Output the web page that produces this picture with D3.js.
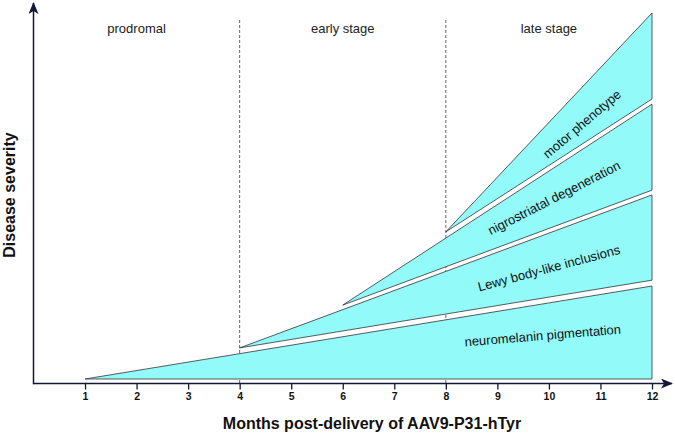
<!DOCTYPE html>
<html>
<head>
<meta charset="utf-8">
<script src="https://cdn.jsdelivr.net/npm/d3@7"></script>
<style>
  body { margin: 0; background: #fff; }
  svg { display: block; font-family: "Liberation Sans", Arial, sans-serif; }
</style>
</head>
<body>
<div class="chart"></div>
<script>
// data
var months = [1, 2, 3, 4, 5, 6, 7, 8, 9, 10, 11, 12];
var stageNames = ["prodromal", "early stage", "late stage"];
var stageBounds = [0, 4, 8, 12];

var bandNames = ["neuromelanin pigmentation", "Lewy body-like inclusions", "nigrostriatal degeneration", "motor phenotype"];
var bandStart = [1, 4, 6, 8];            // month where the band begins
var bandStartValue = [0, 8.5, 20.2, 40.2];
var bandEndLow = [0, 27.0, 51.6, 76.5];  // severity at month 12, lower edge
var bandEndHigh = [25.4, 50.3, 75.1, 100];
var labelMonth = [9.88, 10.0, 10.1, 10.64];
var labelValue = [11.9, 30.3, 49.5, 69.7];

var width = 675, height = 436;
var ink = "#15173a";

var svg = d3.select(".chart")
    .append("svg")
    .attr("width", width)
    .attr("height", height);

var x = d3.scaleLinear().domain([0, 12]).range([33.5, 652]);
var y = d3.scaleLinear().domain([0, 100]).range([379, 13]);
var axisY = 383.5;

// stage dividers
svg.selectAll(".divider")
    .data(stageBounds.slice(1, 3))
    .enter().append("line")
    .attr("class", "divider")
    .attr("x1", function (d) { return x(d); })
    .attr("x2", function (d) { return x(d); })
    .attr("y1", 20)
    .attr("y2", axisY)
    .attr("stroke", "#555")
    .attr("stroke-width", 0.9)
    .attr("stroke-dasharray", "3,2");

// stage labels
svg.selectAll(".stage")
    .data(stageNames)
    .enter().append("text")
    .attr("class", "stage")
    .attr("x", function (d, i) { return x((stageBounds[i] + stageBounds[i + 1]) / 2); })
    .attr("y", 28)
    .attr("dy", "0.35em")
    .attr("text-anchor", "middle")
    .attr("font-size", 13)
    .attr("fill", "#222")
    .text(function (d) { return d; });

// bands
var bands = bandNames.map(function (name, i) {
    return {
        name: name,
        pts: [
            [x(bandStart[i]), y(bandStartValue[i])],
            [x(12), y(bandEndLow[i])],
            [x(12), y(bandEndHigh[i])]
        ],
        i: i
    };
});

var line = d3.line();

svg.selectAll(".band")
    .data(bands)
    .enter().append("path")
    .attr("class", "band")
    .attr("d", function (d) { return line(d.pts) + "Z"; })
    .attr("fill", "#93fafa")
    .attr("stroke", "#333")
    .attr("stroke-width", 0.8)
    .attr("stroke-linejoin", "miter");

// band labels, rotated along the middle of each band
svg.selectAll(".bandLabel")
    .data(bands)
    .enter().append("text")
    .attr("class", "bandLabel")
    .attr("transform", function (d) {
        var p0 = d.pts[0];
        var midY = (d.pts[1][1] + d.pts[2][1]) / 2;
        var ang = Math.atan2(midY - p0[1], d.pts[1][0] - p0[0]) * 180 / Math.PI;
        return "translate(" + x(labelMonth[d.i]) + "," + y(labelValue[d.i]) + ") rotate(" + ang + ")";
    })
    .attr("dy", "0.35em")
    .attr("text-anchor", "middle")
    .attr("font-size", 13)
    .attr("fill", "#111")
    .text(function (d) { return d.name; });

// axes with arrows
svg.append("defs").append("marker")
    .attr("id", "arrow")
    .attr("viewBox", "0 0 12 10")
    .attr("refX", 11)
    .attr("refY", 5)
    .attr("markerWidth", 12)
    .attr("markerHeight", 10)
    .attr("markerUnits", "userSpaceOnUse")
    .attr("orient", "auto")
    .append("path")
    .attr("d", "M0,0 L12,5 L0,10 L3,5 Z")
    .attr("fill", ink);

svg.append("line")
    .attr("x1", 33.5).attr("y1", axisY)
    .attr("x2", 672).attr("y2", axisY)
    .attr("stroke", ink)
    .attr("stroke-width", 1.5)
    .attr("marker-end", "url(#arrow)");

svg.append("line")
    .attr("x1", 33.5).attr("y1", axisY + 0.75)
    .attr("x2", 33.5).attr("y2", 3)
    .attr("stroke", ink)
    .attr("stroke-width", 1.5)
    .attr("marker-end", "url(#arrow)");

var xAxis = svg.append("g")
    .attr("transform", "translate(0," + axisY + ")")
    .call(d3.axisBottom(x).tickValues(months).tickSize(6).tickPadding(3).tickFormat(d3.format("d")));

xAxis.select(".domain").remove();
xAxis.selectAll(".tick line").attr("stroke", ink).attr("stroke-width", 1.3);
xAxis.selectAll(".tick text")
    .attr("fill", "#111")
    .attr("font-size", 10.5)
    .attr("font-weight", "bold")
    .attr("font-family", "'Liberation Sans', Arial, sans-serif");

// axis titles
svg.append("text")
    .attr("x", 372)
    .attr("y", 423)
    .attr("dy", "0.35em")
    .attr("text-anchor", "middle")
    .attr("font-size", 16)
    .attr("font-weight", "bold")
    .attr("fill", "#111")
    .text("Months post-delivery of AAV9-P31-hTyr");

svg.append("text")
    .attr("transform", "translate(9.5,195) rotate(-90)")
    .attr("dy", "0.35em")
    .attr("text-anchor", "middle")
    .attr("font-size", 16)
    .attr("font-weight", "bold")
    .attr("fill", "#111")
    .text("Disease severity");
</script>
</body>
</html>
